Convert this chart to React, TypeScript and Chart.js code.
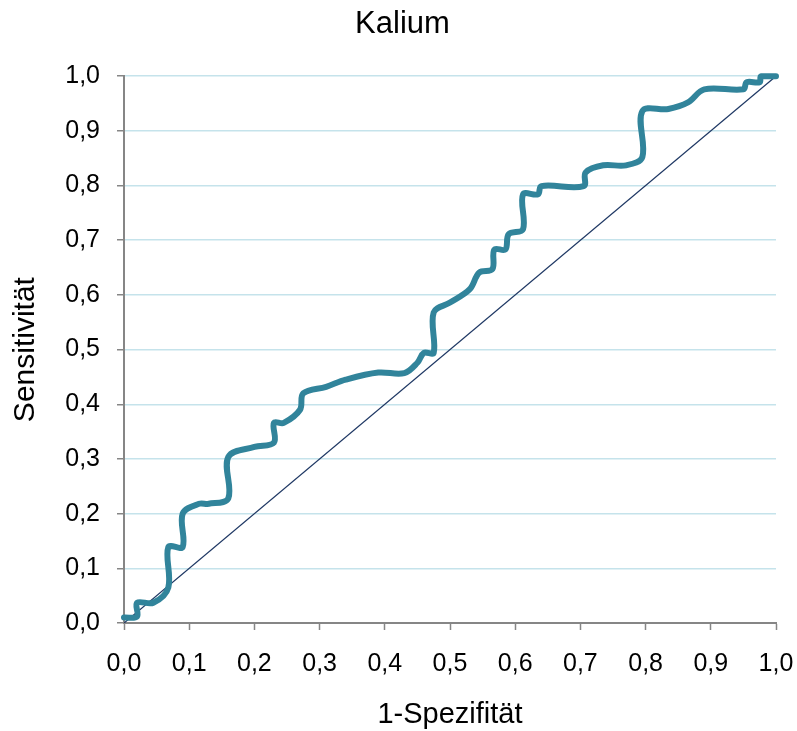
import React, { useEffect, useRef } from "react";
import { Chart, registerables } from "chart.js";

Chart.register(...registerables);

const titleText = "Kalium";
const xAxisTitle = "1-Spezifität";
const yAxisTitle = "Sensitivität";
const tickValues = [0, 0.1, 0.2, 0.3, 0.4, 0.5, 0.6, 0.7, 0.8, 0.9, 1.0];

const rocX = [0, 0.02, 0.02, 0.045, 0.068, 0.068, 0.09, 0.09, 0.115, 0.13, 0.16, 0.16, 0.2, 0.23, 0.23, 0.245, 0.27, 0.275, 0.31, 0.34, 0.39, 0.43, 0.45, 0.46, 0.475, 0.475, 0.5, 0.53, 0.545, 0.565, 0.568, 0.585, 0.59, 0.612, 0.612, 0.635, 0.64, 0.705, 0.708, 0.735, 0.77, 0.795, 0.795, 0.835, 0.865, 0.89, 0.95, 0.955, 0.975, 0.977, 1.0];
const rocY = [0.01, 0.012, 0.037, 0.037, 0.065, 0.139, 0.139, 0.2, 0.218, 0.218, 0.228, 0.304, 0.322, 0.33, 0.366, 0.366, 0.39, 0.42, 0.432, 0.445, 0.458, 0.457, 0.476, 0.494, 0.494, 0.568, 0.586, 0.61, 0.641, 0.647, 0.683, 0.683, 0.711, 0.72, 0.784, 0.784, 0.799, 0.799, 0.824, 0.837, 0.837, 0.852, 0.936, 0.94, 0.952, 0.976, 0.976, 0.989, 0.989, 1.0, 1.0];

const diagX = [0, 1];
const diagY = [0, 1];

const FONT = "'Liberation Sans', Arial, sans-serif";

export default function App() {
  const ref = useRef<HTMLCanvasElement | null>(null);

  useEffect(() => {
    if (!ref.current) return;
    const fmt = (v: number) => v.toFixed(1).replace(".", ",");
    const chart = new Chart(ref.current, {
      type: "scatter",
      data: {
        datasets: [
          {
            label: "Diagonale",
            data: diagX.map((x, i) => ({ x, y: diagY[i] })),
            showLine: true,
            borderColor: "#1F3864",
            borderWidth: 1.3,
            pointRadius: 0,
            tension: 0,
            order: 2,
          },
          {
            label: "ROC",
            data: rocX.map((x, i) => ({ x, y: rocY[i] })),
            showLine: true,
            borderColor: "#31849B",
            borderWidth: 6,
            pointRadius: 0,
            tension: 0.35,
            clip: 8,
            borderJoinStyle: "round",
            borderCapStyle: "round",
            order: 1,
          },
        ],
      },
      options: {
        animation: false,
        responsive: true,
        maintainAspectRatio: false,
        layout: { padding: { left: 8, right: 0, top: 0, bottom: 0 } },
        plugins: {
          legend: { display: false },
          tooltip: { enabled: false },
          title: {
            display: true,
            text: titleText,
            color: "#000",
            font: { family: FONT, size: 31, weight: "normal", lineHeight: 1.2 },
            padding: { top: 6, bottom: 33 },
          },
        },
        scales: {
          x: {
            type: "linear",
            min: 0,
            max: 1,
            afterBuildTicks: (s: any) => {
              s.ticks = tickValues.map((v) => ({ value: v }));
            },
            afterFit: (s: any) => {
              s.height = 108;
              s.paddingLeft = 0;
              s.paddingRight = 21;
            },
            ticks: {
              color: "#000",
              font: { family: FONT, size: 25 },
              padding: 19,
              maxRotation: 0,
              autoSkip: false,
              callback: (v: any) => fmt(Number(v)),
            },
            grid: {
              drawOnChartArea: false,
              drawTicks: true,
              tickLength: 7,
              tickColor: "#868686",
              tickWidth: 1.5,
            },
            border: { color: "#868686", width: 2 },
            title: {
              display: true,
              text: xAxisTitle,
              color: "#000",
              font: { family: FONT, size: 29, lineHeight: 1.1 },
              padding: { top: 0, bottom: 0 },
            },
          },
          y: {
            type: "linear",
            min: 0,
            max: 1,
            afterBuildTicks: (s: any) => {
              s.ticks = tickValues.map((v) => ({ value: v }));
            },
            afterFit: (s: any) => {
              s.width = 116;
            },
            ticks: {
              color: "#000",
              font: { family: FONT, size: 25 },
              padding: 17,
              autoSkip: false,
              callback: (v: any) => fmt(Number(v)),
            },
            grid: {
              color: "#C5E3EB",
              lineWidth: 1.5,
              drawTicks: true,
              tickLength: 7,
              tickColor: "#868686",
              tickWidth: 1.5,
            },
            border: { color: "#868686", width: 2 },
            title: {
              display: true,
              text: yAxisTitle,
              color: "#000",
              font: { family: FONT, size: 30, lineHeight: 1.1 },
              padding: { top: 1.5, bottom: 0 },
            },
          },
        },
      },
    });
    return () => chart.destroy();
  }, []);

  return (
    <div style={{ position: "absolute", left: 0, top: 0, width: 797, height: 731, background: "#fff" }}>
      <canvas ref={ref} />
    </div>
  );
}
